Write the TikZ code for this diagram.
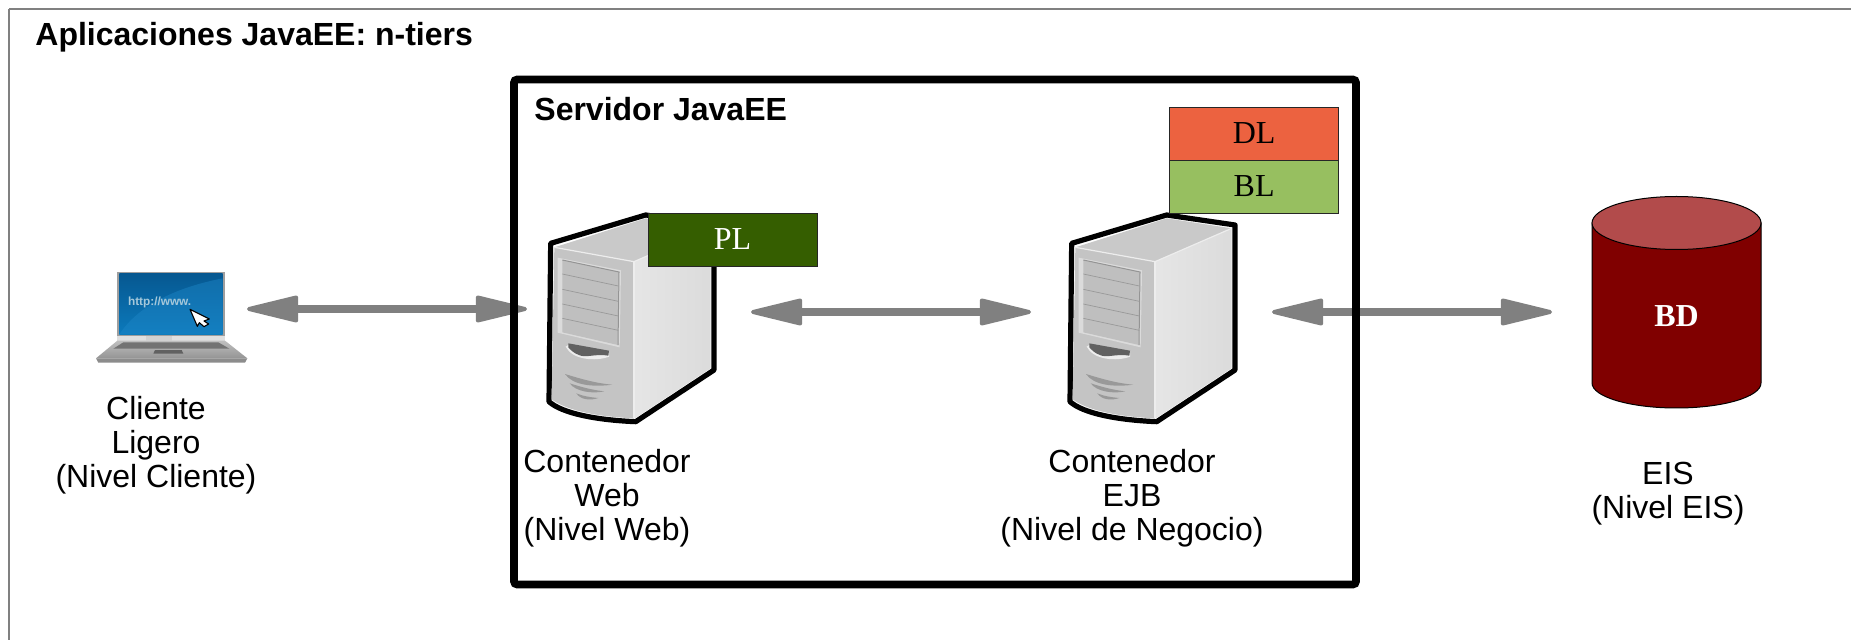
\documentclass[tikz,border=0pt]{standalone}
\usepackage{fontspec}
\setmainfont{Liberation Sans}
\newfontfamily\serifbox{Liberation Serif}
\usetikzlibrary{arrows.meta}
\definecolor{frameGray}{HTML}{808080}
\definecolor{arrowGray}{HTML}{808080}
\definecolor{plGreen}{HTML}{355E00}
\definecolor{dlOrange}{HTML}{EC6240}
\definecolor{blGreen}{HTML}{97BF60}
\definecolor{dbRed}{HTML}{800000}
\definecolor{dbTop}{HTML}{B24B4B}
\definecolor{scrTop}{RGB}{6,88,145}
\definecolor{scrBot}{RGB}{12,122,188}
\definecolor{scrArc}{RGB}{30,135,200}
\definecolor{urlText}{RGB}{165,200,218}
\tikzset{
  lbl/.style={align=center,font=\fontsize{16}{17.1}\selectfont,inner sep=0pt},
  ttl/.style={anchor=base west,font=\fontsize{16}{17}\selectfont\bfseries,inner sep=0pt},
  tier/.style={draw=black!85,line width=0.4pt,minimum width=84.5pt,minimum height=26.5pt,inner sep=0pt,font=\fontsize{16}{17}\selectfont\serifbox},
  link/.style={draw=arrowGray,line width=4.4pt,{Triangle[length=29pt,width=13.5pt,line width=2pt,round,fill=arrowGray]}-{Triangle[length=29pt,width=13.5pt,line width=2pt,round,fill=arrowGray]}},
  srvline/.style={draw=black,line width=2.6pt,line join=round}
}
\newcommand{\serverpic}[2]{%
\begin{scope}[shift={(#1,#2)},x=0.16667pt,y=-0.16667pt]
  \path[fill=white,srvline] (65,460) -- (350,375) -- (555,405) -- (555,840) -- (320,995) .. controls (200,990) and (100,970) .. (60,935) -- cycle;
  \fill[black!21] (76,472) -- (350,385) -- (545,415) -- (315,515) -- cycle;
  \shade[left color=black!10,right color=black!14] (315,515) -- (545,415) -- (545,835) -- (318,985) -- cycle;
  \fill[black!23] (76,472) -- (315,515) -- (315,985) .. controls (200,980) and (110,960) .. (68,928) -- cycle;
  \draw[black!7,line width=0.6pt] (76,472) -- (315,515) -- (545,415);
  \draw[black!7,line width=0.8pt] (315,515) -- (315,985);
  \fill[black!14] (86,503) -- (276,541) -- (272,772) -- (86,728) -- cycle;
  \fill[black!25] (100,510) -- (270,546) -- (267,765) -- (100,727) -- cycle;
  \draw[black!42,line width=0.5pt] (100,510) -- (270,546) -- (267,765);
  \foreach \yy in {552,598,642,685}{\draw[black!40,line width=0.35pt] (100,\yy) -- (268,\yy+36);}
  \fill[black!7] (110,770) .. controls (130,810) and (200,815) .. (240,800) -- (240,790) -- (118,765) -- cycle;
  \fill[black!62] (118,760) -- (240,782) -- (238,797) .. controls (200,790) and (170,805) .. (150,795) .. controls (135,790) and (125,780) .. (118,772) -- cycle;
  \fill[black!40] (108,852) .. controls (150,865) and (200,880) .. (250,884) .. controls (190,892) and (130,885) .. (108,852) -- cycle;
  \fill[black!40] (122,880) .. controls (160,892) and (190,900) .. (226,904) .. controls (190,912) and (140,905) .. (122,880) -- cycle;
  \fill[black!40] (142,910) .. controls (160,918) and (185,922) .. (208,924) .. controls (185,932) and (155,930) .. (142,910) -- cycle;
\end{scope}}
\begin{document}
\begin{tikzpicture}[x=0.5pt,y=-0.5pt]
\useasboundingbox (0,0) rectangle (1851,640);
\fill[white] (0,0) rectangle (1851,640);
% page frame (open right and bottom)
\coordinate (frameA) at (1851,9);
\coordinate (frameB) at (9,9);
\coordinate (frameC) at (9,640);
\draw[frameGray,line width=1pt] (frameA) -- (frameB);
\draw[frameGray,line width=0.6pt] (frameB) -- (frameC);
\node[ttl] (title) at (35,46) {Aplicaciones JavaEE: n-tiers};
% laptop
\begin{scope}[shift={(80,250)},x=0.16667pt,y=-0.16667pt]
  \fill[black!38] (111,66) rectangle (436,258);
  \fill[black!12] (112,258) -- (435,258) -- (435,272) -- (112,272) -- cycle;
  \shade[top color=black!25,bottom color=black!42] (112,272) -- (435,272) -- (502,325) -- (48,325) -- cycle;
  \fill[black!45] (48,325) -- (502,325) -- (495,338) -- (55,338) -- cycle;
  \fill[black!55] (130,277) -- (415,277) -- (448,296) -- (100,296) -- cycle;
  \fill[black!62] (225,300) -- (305,300) -- (310,311) -- (220,311) -- cycle;
  \fill[black!18] (198,258) rectangle (277,272);
  \shade[top color=scrTop,bottom color=scrBot] (118,72) rectangle (428,253);
  \fill[scrArc,opacity=0.45] (118,253) .. controls (180,160) and (300,110) .. (428,85) -- (428,253) -- cycle;
  \node[inner sep=0pt,anchor=base west,text=urlText,font=\fontsize{5.9}{7}\selectfont\bfseries] (url) at (143,167) {http://www.};
  \path[fill=white,draw=black,line width=0.55pt,line join=round] (330,178) -- (388,207) -- (372,213) -- (386,222) -- (372,230) -- (358,218) -- (352,229) -- cycle;
\end{scope}
% arrows
\coordinate (a1) at (247,309);
\coordinate (b1) at (527,309);
\coordinate (a2) at (751,312);
\coordinate (b2) at (1031,312);
\coordinate (a3) at (1272,312);
\coordinate (b3) at (1552,312);
\draw[link] (a1) -- (b1);
\draw[link] (a2) -- (b2);
\draw[link] (a3) -- (b3);
% servers
\serverpic{529}{90}
\serverpic{1050}{90}
% server box
\node[draw=black,line width=3.8pt,rounded corners=1.5pt,minimum width=421pt,minimum height=252.5pt,inner sep=0pt,anchor=north west,outer sep=0pt] (serverbox) at (514,79.5) {};
\node[ttl] (servertitle) at (534,121) {Servidor JavaEE};
% tier boxes
\node[tier,fill=plGreen,text=white] (PL) at (732.5,239.5) {\raisebox{-0.5pt}{PL}};
\node[tier,fill=dlOrange] (DL) at (1253.5,133.5) {\raisebox{-1pt}{\hspace{0.6pt}DL}};
\node[tier,fill=blGreen] (BL) at (1253.5,186.5) {\raisebox{-0.6pt}{\hspace{0.6pt}BL}};
% cylinder
\path[fill=dbRed,draw=black,line width=0.5pt] (1592,223) -- (1592,383) arc[x radius=84.5,y radius=25,start angle=180,end angle=0] -- (1761,223) -- cycle;
\path[fill=dbTop,draw=black,line width=0.5pt] (1676.5,223) ellipse[x radius=84.5,y radius=26.5];
\node[inner sep=0pt,text=white,font=\fontsize{16}{17}\selectfont\serifbox\bfseries] (BD) at (1676.5,316) {BD};
% labels
\node[lbl] (cliente) at (156,445) {Cliente\\Ligero\\(Nivel Cliente)};
\node[lbl] (web) at (607,498) {Contenedor\\Web\\(Nivel Web)};
\node[lbl] (ejb) at (1132,498) {Contenedor\\EJB\\(Nivel de Negocio)};
\node[lbl] (eis) at (1668,493.5) {EIS\\(Nivel EIS)};
\end{tikzpicture}
\end{document}
